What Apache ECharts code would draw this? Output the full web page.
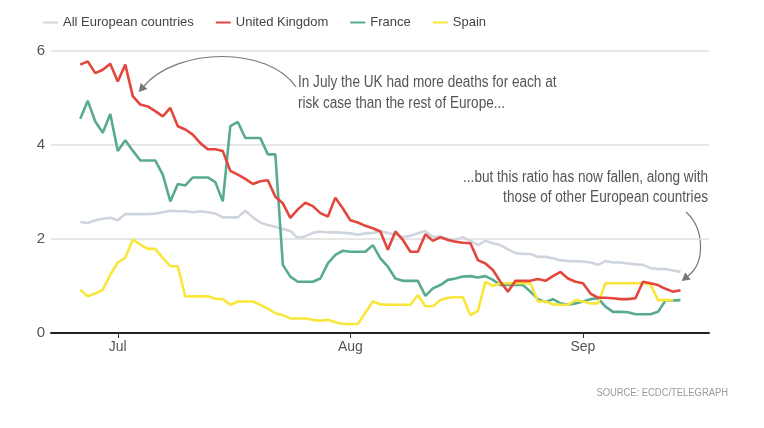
<!DOCTYPE html>
<html>
<head>
<meta charset="utf-8">
<script src="https://cdn.jsdelivr.net/npm/echarts@6/dist/echarts.min.js"></script>
<style>
html,body{margin:0;padding:0;background:#fff;}
#chart{width:764px;height:428px;}
</style>
</head>
<body>
<div id="chart"></div>
<script>
// ---- data (daily, starting 26 June 2020) ----
const startDate = '2020-06-26';
const monthTickDates = ['2020-07-01', '2020-08-01', '2020-09-01'];
const monthTickLabels = ['Jul', 'Aug', 'Sep'];
const yTicks = [0, 2, 4, 6];

const allEurope = [2.36,2.34,2.40,2.43,2.45,2.40,2.53,2.53,2.53,2.53,
  2.54,2.57,2.60,2.59,2.59,2.57,2.59,2.57,2.54,2.46,
  2.46,2.46,2.60,2.46,2.35,2.30,2.26,2.21,2.17,2.02,
  2.06,2.13,2.16,2.14,2.14,2.13,2.12,2.09,2.12,2.13,
  2.16,2.13,2.09,2.04,2.07,2.12,2.17,2.04,2.05,2.00,
  1.98,2.04,1.96,1.87,1.96,1.91,1.87,1.78,1.70,1.68,
  1.68,1.62,1.62,1.59,1.55,1.53,1.53,1.52,1.50,1.45,
  1.53,1.50,1.50,1.48,1.46,1.45,1.38,1.36,1.36,1.33,
  1.30];
const uk = [5.71,5.78,5.53,5.60,5.73,5.35,5.71,5.04,4.86,4.82,
  4.72,4.61,4.79,4.40,4.33,4.22,4.04,3.91,3.91,3.87,
  3.45,3.37,3.28,3.17,3.23,3.25,2.90,2.76,2.45,2.63,
  2.77,2.70,2.55,2.48,2.88,2.65,2.40,2.35,2.28,2.23,
  2.16,1.77,2.16,1.98,1.73,1.73,2.10,1.96,2.04,1.98,
  1.94,1.92,1.91,1.55,1.48,1.34,1.09,0.88,1.11,1.11,
  1.11,1.15,1.11,1.21,1.30,1.16,1.09,1.06,0.84,0.75,
  0.75,0.74,0.72,0.72,0.74,1.09,1.06,1.02,0.94,0.88,
  0.91];
const france = [4.56,4.94,4.50,4.26,4.66,3.87,4.10,3.88,3.67,3.67,
  3.67,3.37,2.80,3.17,3.14,3.31,3.31,3.31,3.21,2.80,
  4.40,4.49,4.15,4.15,4.15,3.80,3.80,1.45,1.20,1.09,
  1.09,1.09,1.16,1.48,1.66,1.75,1.73,1.73,1.73,1.87,
  1.59,1.41,1.16,1.11,1.11,1.11,0.79,0.95,1.02,1.13,
  1.16,1.20,1.21,1.18,1.21,1.13,1.02,1.02,1.02,1.02,
  0.88,0.72,0.66,0.72,0.63,0.60,0.63,0.67,0.72,0.74,
  0.56,0.45,0.45,0.44,0.40,0.40,0.40,0.45,0.69,0.69,
  0.70];
const spain = [0.92,0.78,0.84,0.92,1.24,1.50,1.60,1.99,1.88,1.79,
  1.79,1.60,1.42,1.42,0.78,0.78,0.78,0.78,0.73,0.72,
  0.60,0.67,0.67,0.67,0.60,0.52,0.42,0.38,0.31,0.31,
  0.31,0.28,0.26,0.28,0.23,0.19,0.19,0.19,0.43,0.67,
  0.61,0.60,0.60,0.60,0.60,0.81,0.57,0.57,0.70,0.75,
  0.76,0.76,0.38,0.47,1.09,1.00,1.06,1.06,1.06,1.06,
  1.06,0.67,0.67,0.61,0.60,0.60,0.70,0.67,0.63,0.63,
  1.06,1.06,1.06,1.06,1.06,1.06,1.04,0.70,0.70,0.70,
  null];

const seriesNames = ['All European countries', 'United Kingdom', 'France', 'Spain'];
const seriesColors = ['#cfd5de', '#e2463c', '#58aa91', '#f8e63a'];

// ---- build: x = days since 1 July ----
const DAY = 86400000;
const ref = Date.parse(monthTickDates[0] + 'T00:00:00Z');
const dayOf = d => Math.round((Date.parse(d + 'T00:00:00Z') - ref) / DAY);
const firstDay = dayOf(startDate);
const pair = arr => arr.map((v, i) => [firstDay + i, v]);
const tickDays = monthTickDates.map(dayOf);
const FONT = "'Liberation Sans', Arial, sans-serif";

const chart = echarts.init(document.getElementById('chart'), null, {renderer: 'canvas'});

function arrow(points, color) {
  const [p0, p1, p2, p3] = points;
  const dx = p3[0] - p2[0], dy = p3[1] - p2[1];
  const len = Math.hypot(dx, dy);
  const ux = dx / len, uy = dy / len;
  const tip = [p3[0] + ux * 8, p3[1] + uy * 8];
  const b1 = [p3[0] - uy * 4.5, p3[1] + ux * 4.5];
  const b2 = [p3[0] + uy * 4.5, p3[1] - ux * 4.5];
  return [
    {type: 'bezierCurve', silent: true, shape: {x1: p0[0], y1: p0[1], cpx1: p1[0], cpy1: p1[1], cpx2: p2[0], cpy2: p2[1], x2: p3[0], y2: p3[1]},
      style: {stroke: color, lineWidth: 1.2, fill: null}},
    {type: 'polygon', silent: true, shape: {points: [tip, b1, b2]}, style: {fill: color}}
  ];
}

const option = {
  animation: false,
  backgroundColor: '#fff',
  textStyle: {fontFamily: FONT},
  legend: {
    data: seriesNames,
    left: 38, top: 11,
    icon: 'rect', itemWidth: 15, itemHeight: 2, itemGap: 22,
    textStyle: {fontFamily: FONT, fontSize: 13, color: '#444'}
  },
  grid: {left: 51, right: 55, top: 51, bottom: 95, containLabel: false},
  xAxis: {
    type: 'value',
    min: -8.9,
    max: 78.8,
    axisLine: {show: true, onZero: false, lineStyle: {color: '#222', width: 2}},
    axisTick: {show: true, length: 5, lineStyle: {color: '#333', width: 1}, customValues: tickDays},
    axisLabel: {customValues: tickDays, color: '#555', fontSize: 14, fontFamily: FONT, margin: 7,
      formatter: v => monthTickLabels[tickDays.indexOf(Math.round(v))] || ''},
    splitLine: {show: false}
  },
  yAxis: {
    type: 'value', min: yTicks[0], max: yTicks[yTicks.length - 1], interval: 2,
    axisLine: {show: false}, axisTick: {show: false},
    axisLabel: {color: '#555', fontSize: 15, fontFamily: FONT, margin: 6},
    splitLine: {lineStyle: {color: '#dedede', width: 1.5}}
  },
  series: [
    {name: seriesNames[0], type: 'line', data: pair(allEurope), color: seriesColors[0]},
    {name: seriesNames[2], type: 'line', data: pair(france), color: seriesColors[2]},
    {name: seriesNames[3], type: 'line', data: pair(spain), color: seriesColors[3]},
    {name: seriesNames[1], type: 'line', data: pair(uk), color: seriesColors[1]}
  ].map(s => Object.assign(s, {showSymbol: false, symbol: 'none', lineStyle: {width: 2.6, color: s.color}, itemStyle: {color: s.color}})),
  graphic: [
    {type: 'text', x: 298, y: 72, scaleX: 0.85, silent: true,
      style: {text: 'In July the UK had more deaths for each at\nrisk case than the rest of Europe...', font: '16px ' + FONT, fill: '#555', lineHeight: 21, verticalAlign: 'top', align: 'left'}},
    {type: 'text', x: 708, y: 168, scaleX: 0.85, silent: true,
      style: {text: '...but this ratio has now fallen, along with\nthose of other European countries', font: '16px ' + FONT, fill: '#555', lineHeight: 20, align: 'right', verticalAlign: 'top'}},
    {type: 'text', x: 728, y: 393, scaleX: 0.94, silent: true,
      style: {text: 'SOURCE: ECDC/TELEGRAPH', font: '10px ' + FONT, fill: '#999', align: 'right', verticalAlign: 'middle'}},
    ...arrow([[296, 87], [268, 46], [178, 47], [144, 86]], '#777'),
    ...arrow([[686, 212], [704, 228], [706, 262], [688, 276]], '#777')
  ]
};
chart.setOption(option);
</script>
</body>
</html>
